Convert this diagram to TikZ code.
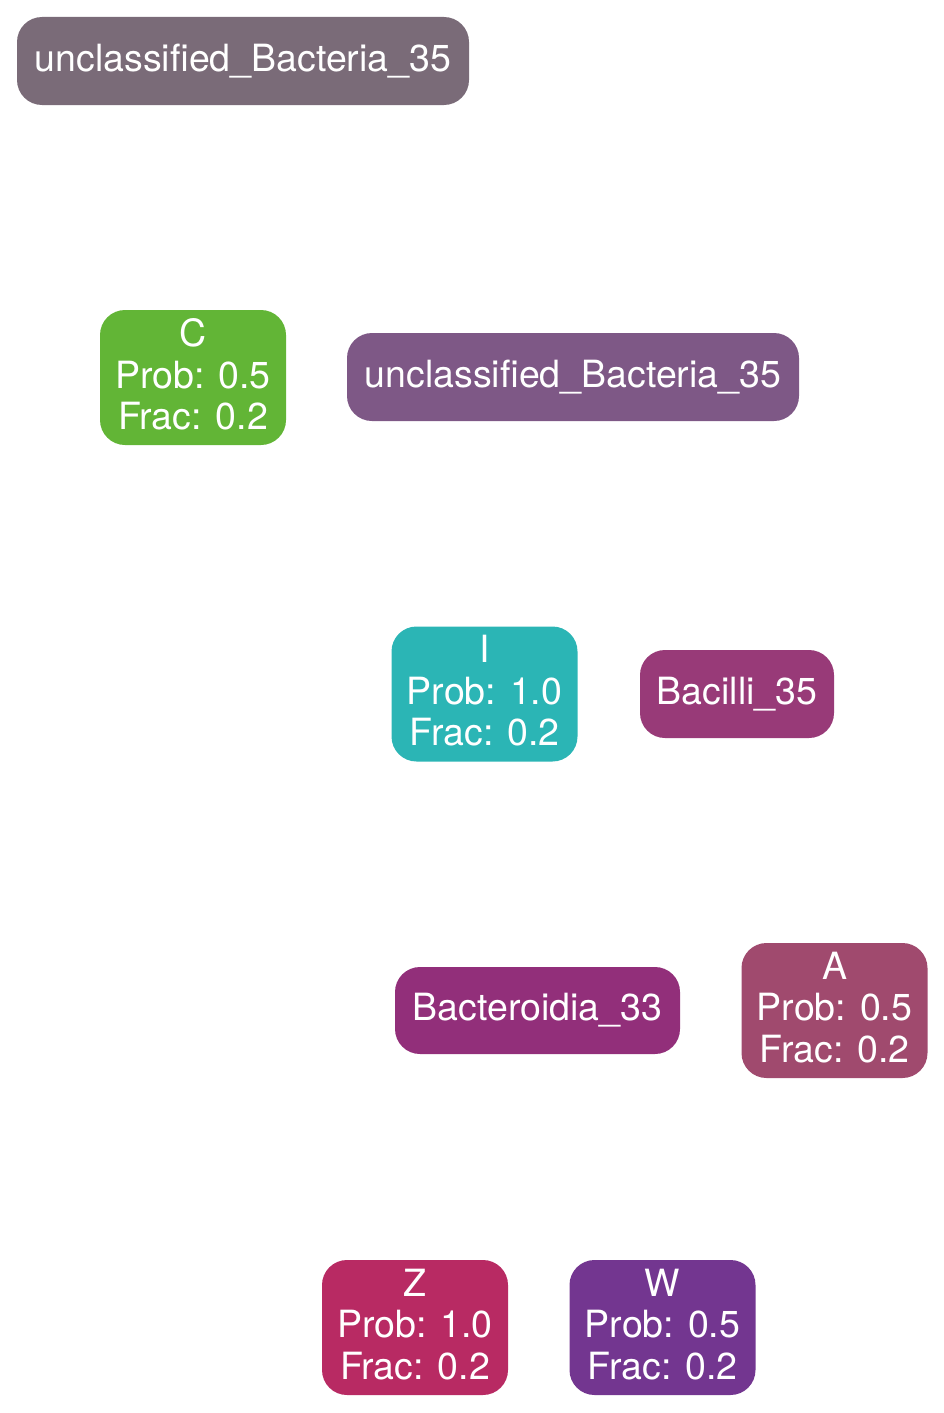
\documentclass[tikz,border=0pt]{standalone}
\usepackage{fontspec}
\setmainfont{TeX Gyre Heros}

\definecolor{grayclr}{HTML}{7A6B78}
\definecolor{greenclr}{HTML}{62B536}
\definecolor{violetclr}{HTML}{7E5886}
\definecolor{tealclr}{HTML}{2BB5B5}
\definecolor{bacilliclr}{HTML}{983A78}
\definecolor{bacteroclr}{HTML}{922F7A}
\definecolor{roseclr}{HTML}{A04A6E}
\definecolor{redclr}{HTML}{B82A63}
\definecolor{purpleclr}{HTML}{733690}

\tikzset{
  taxon/.style={rounded corners=25pt,text=white,align=center,inner sep=0pt,
    font=\fontsize{37.5}{41.5}\selectfont},
  wide/.style={taxon,minimum width=452pt,minimum height=88pt},
  small/.style={taxon,minimum width=194pt,minimum height=88pt},
  mid/.style={taxon,minimum width=285pt,minimum height=87pt},
  box/.style={taxon,minimum width=186pt,minimum height=135pt,text depth=7pt}
}

\begin{document}
\begin{tikzpicture}[x=1pt,y=-1pt]

      \useasboundingbox (0,0) rectangle (944,1413);

      \node[wide,fill=grayclr]   (U1) at (243,61)    {unclassified\_Bacteria\_35};
      \node[box,fill=greenclr]   (C)  at (193,377.5) {C\\Prob: 0.5\\Frac: 0.2};
      \node[wide,fill=violetclr] (U2) at (573,377)   {unclassified\_Bacteria\_35};
      \node[box,fill=tealclr]    (I)  at (484.5,694) {I\\Prob: 1.0\\Frac: 0.2};
      \node[small,fill=bacilliclr] (Ba) at (737,694)  {Bacilli\_35};
      \node[mid,fill=bacteroclr] (Bd) at (537.5,1010.5) {Bacteroidia\_33};
      \node[box,fill=roseclr]    (A)  at (834.5,1010.5) {A\\Prob: 0.5\\Frac: 0.2};
      \node[box,fill=redclr]     (Z)  at (415,1327.5) {Z\\Prob: 1.0\\Frac: 0.2};
      \node[box,fill=purpleclr]  (W)  at (662.5,1327.5) {W\\Prob: 0.5\\Frac: 0.2};

    \end{tikzpicture}
\end{document}
